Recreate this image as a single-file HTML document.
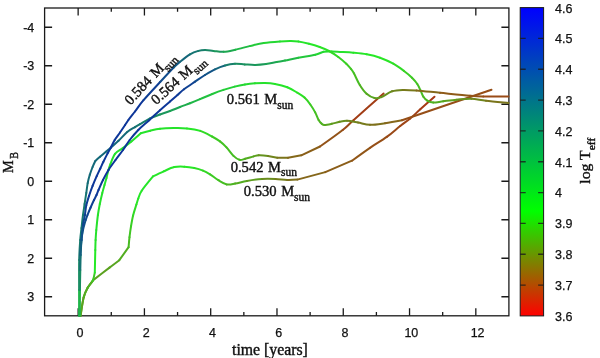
<!DOCTYPE html>
<html><head><meta charset="utf-8"><style>
html,body{margin:0;padding:0;background:#fff;width:600px;height:358px;overflow:hidden}
svg{display:block;will-change:transform}
.tk{font-family:"Liberation Sans",sans-serif;font-size:12.5px;fill:#111;stroke:#111;stroke-width:0.25px}
.sf{font-family:"Liberation Serif",serif;fill:#111}
.lb{stroke:#111;stroke-width:0.4px}
</style></head><body>
<svg width="600" height="358" viewBox="0 0 600 358">
<defs>
<linearGradient id="cb" x1="0" y1="1" x2="0" y2="0"><stop offset="0.000" stop-color="#ff0000"/><stop offset="0.020" stop-color="#f00f00"/><stop offset="0.040" stop-color="#e11e00"/><stop offset="0.060" stop-color="#d22d00"/><stop offset="0.080" stop-color="#c33c00"/><stop offset="0.100" stop-color="#b44b00"/><stop offset="0.120" stop-color="#a55a00"/><stop offset="0.140" stop-color="#966900"/><stop offset="0.160" stop-color="#877800"/><stop offset="0.180" stop-color="#788700"/><stop offset="0.200" stop-color="#699600"/><stop offset="0.220" stop-color="#5aa500"/><stop offset="0.240" stop-color="#4bb400"/><stop offset="0.260" stop-color="#3cc300"/><stop offset="0.280" stop-color="#2dd200"/><stop offset="0.300" stop-color="#1ee100"/><stop offset="0.320" stop-color="#0ff000"/><stop offset="0.340" stop-color="#00ff00"/><stop offset="0.360" stop-color="#00f708"/><stop offset="0.380" stop-color="#00f00f"/><stop offset="0.400" stop-color="#00e817"/><stop offset="0.420" stop-color="#00e01f"/><stop offset="0.440" stop-color="#00d827"/><stop offset="0.460" stop-color="#00d12e"/><stop offset="0.480" stop-color="#00c936"/><stop offset="0.500" stop-color="#00c13e"/><stop offset="0.520" stop-color="#00b946"/><stop offset="0.540" stop-color="#00b24d"/><stop offset="0.560" stop-color="#00aa55"/><stop offset="0.580" stop-color="#00a25d"/><stop offset="0.600" stop-color="#009b64"/><stop offset="0.620" stop-color="#00936c"/><stop offset="0.640" stop-color="#008b74"/><stop offset="0.660" stop-color="#00837c"/><stop offset="0.680" stop-color="#007c83"/><stop offset="0.700" stop-color="#00748b"/><stop offset="0.720" stop-color="#006c93"/><stop offset="0.740" stop-color="#00649b"/><stop offset="0.760" stop-color="#005da2"/><stop offset="0.780" stop-color="#0055aa"/><stop offset="0.800" stop-color="#004db2"/><stop offset="0.820" stop-color="#0046b9"/><stop offset="0.840" stop-color="#003ec1"/><stop offset="0.860" stop-color="#0036c9"/><stop offset="0.880" stop-color="#002ed1"/><stop offset="0.900" stop-color="#0027d8"/><stop offset="0.920" stop-color="#001fe0"/><stop offset="0.940" stop-color="#0017e8"/><stop offset="0.960" stop-color="#000ff0"/><stop offset="0.980" stop-color="#0008f7"/><stop offset="1.000" stop-color="#0000ff"/></linearGradient>
</defs>

<rect x="44.6" y="8.0" width="464.29999999999995" height="307.8" fill="none" stroke="#1a1a1a" stroke-width="1.3"/>
<path d="M78.14 8.0v7.5M78.14 315.8v-7.5M111.28 8.0v3.7M111.28 315.8v-3.7M144.42 8.0v7.5M144.42 315.8v-7.5M177.56 8.0v3.7M177.56 315.8v-3.7M210.70 8.0v7.5M210.70 315.8v-7.5M243.84 8.0v3.7M243.84 315.8v-3.7M276.98 8.0v7.5M276.98 315.8v-7.5M310.12 8.0v3.7M310.12 315.8v-3.7M343.26 8.0v7.5M343.26 315.8v-7.5M376.40 8.0v3.7M376.40 315.8v-3.7M409.54 8.0v7.5M409.54 315.8v-7.5M442.68 8.0v3.7M442.68 315.8v-3.7M475.82 8.0v7.5M475.82 315.8v-7.5M44.6 27.25h7.5M508.9 27.25h-7.5M44.6 65.75h7.5M508.9 65.75h-7.5M44.6 104.25h7.5M508.9 104.25h-7.5M44.6 142.75h7.5M508.9 142.75h-7.5M44.6 181.25h7.5M508.9 181.25h-7.5M44.6 219.75h7.5M508.9 219.75h-7.5M44.6 258.25h7.5M508.9 258.25h-7.5M44.6 296.75h7.5M508.9 296.75h-7.5" stroke="#1a1a1a" stroke-width="1.3" fill="none"/>
<text class="tk" x="79.94" y="337" text-anchor="middle">0</text>
<text class="tk" x="146.22" y="337" text-anchor="middle">2</text>
<text class="tk" x="212.50" y="337" text-anchor="middle">4</text>
<text class="tk" x="278.78" y="337" text-anchor="middle">6</text>
<text class="tk" x="345.06" y="337" text-anchor="middle">8</text>
<text class="tk" x="411.34" y="337" text-anchor="middle">10</text>
<text class="tk" x="477.62" y="337" text-anchor="middle">12</text>
<text class="tk" x="34.3" y="31.55" text-anchor="end">-4</text>
<text class="tk" x="34.3" y="70.05" text-anchor="end">-3</text>
<text class="tk" x="34.3" y="108.55" text-anchor="end">-2</text>
<text class="tk" x="34.3" y="147.05" text-anchor="end">-1</text>
<text class="tk" x="34.3" y="185.55" text-anchor="end">0</text>
<text class="tk" x="34.3" y="224.05" text-anchor="end">1</text>
<text class="tk" x="34.3" y="262.55" text-anchor="end">2</text>
<text class="tk" x="34.3" y="301.05" text-anchor="end">3</text>
<rect x="520.2" y="7.6" width="23.399999999999977" height="308.29999999999995" fill="url(#cb)" stroke="#1a1a1a" stroke-width="1"/>
<path d="M520.2 38.43h5.5M543.6 38.43h-5.5M520.2 69.26h5.5M543.6 69.26h-5.5M520.2 100.09h5.5M543.6 100.09h-5.5M520.2 130.92h5.5M543.6 130.92h-5.5M520.2 161.75h5.5M543.6 161.75h-5.5M520.2 192.58h5.5M543.6 192.58h-5.5M520.2 223.41h5.5M543.6 223.41h-5.5M520.2 254.24h5.5M543.6 254.24h-5.5M520.2 285.07h5.5M543.6 285.07h-5.5" stroke="#1a1a1a" stroke-width="1.3" fill="none" opacity="0.8"/>
<text class="tk" x="555" y="12.50">4.6</text>
<text class="tk" x="555" y="43.33">4.5</text>
<text class="tk" x="555" y="74.16">4.4</text>
<text class="tk" x="555" y="104.99">4.3</text>
<text class="tk" x="555" y="135.82">4.2</text>
<text class="tk" x="555" y="166.65">4.1</text>
<text class="tk" x="555" y="197.48">4</text>
<text class="tk" x="555" y="228.31">3.9</text>
<text class="tk" x="555" y="259.14">3.8</text>
<text class="tk" x="555" y="289.97">3.7</text>
<text class="tk" x="555" y="320.80">3.6</text>
<text class="sf lb" font-size="15.8" x="232" y="354.6">time [years]</text>
<text class="sf lb" font-size="14.2" transform="translate(12.6,173.1) rotate(-90)">M</text>
<text class="sf lb" font-size="11.45" transform="translate(18.1,158.84) rotate(-90) scale(0.875,1)">B</text>
<text class="sf lb" font-size="15" transform="translate(590.3,183.7) rotate(-90) scale(1.05,1)">log T<tspan font-size="11" dy="4.2">eff</tspan></text>
<g fill="none" stroke-width="2.0" stroke-linecap="round"><path d="M80.50 316.00C81.03 312.88 82.48 302.03 83.70 297.30" stroke="#5c9f1f"/><path d="M83.70 297.30C84.92 292.57 86.22 290.47 87.80 287.60" stroke="#5c9f1f"/><path d="M87.80 287.60C89.38 284.73 93.20 280.10 93.20 280.10" stroke="#5c9f1f"/><path d="M93.20 280.10C93.20 280.10 105.15 270.92 109.50 267.60" stroke="#5ba11f"/><path d="M109.50 267.60C113.85 264.28 119.30 260.20 119.30 260.20" stroke="#58a520"/><path d="M119.30 260.20C119.30 260.20 128.60 247.20 128.60 247.20" stroke="#52ad20"/><path d="M128.60 247.20C128.60 247.20 129.10 240.68 129.50 237.20" stroke="#48bb22"/><path d="M129.50 237.20C129.90 233.72 130.40 229.93 131.00 226.30" stroke="#40c623"/><path d="M131.00 226.30C131.60 222.67 132.20 219.03 133.10 215.40" stroke="#38d024"/><path d="M133.10 215.40C134.00 211.77 135.53 207.32 136.40 204.50" stroke="#30db25"/><path d="M136.40 204.50C137.27 201.68 137.42 200.80 138.30 198.50" stroke="#2ae526"/><path d="M138.30 198.50C139.18 196.20 139.25 194.38 141.70 190.70" stroke="#26e827"/><path d="M141.70 190.70C144.15 187.02 153.00 176.40 153.00 176.40" stroke="#26e529"/><path d="M153.00 176.40C153.00 176.40 160.15 172.85 163.70 171.30" stroke="#26e628"/><path d="M163.70 171.30C167.25 169.75 170.87 167.87 174.30 167.10" stroke="#26e628"/><path d="M174.30 167.10C177.73 166.33 180.97 166.55 184.30 166.70" stroke="#26e727"/><path d="M184.30 166.70C187.63 166.85 191.18 167.35 194.30 168.00" stroke="#27e826"/><path d="M194.30 168.00C197.42 168.65 200.38 169.55 203.00 170.60" stroke="#2edf25"/><path d="M203.00 170.60C205.62 171.65 207.43 172.70 210.00 174.30" stroke="#34d624"/><path d="M210.00 174.30C212.57 175.90 215.60 178.52 218.40 180.20" stroke="#3dca23"/><path d="M218.40 180.20C221.20 181.88 224.00 183.83 226.80 184.40" stroke="#45be22"/><path d="M226.80 184.40C229.60 184.97 231.85 184.17 235.20 183.60" stroke="#4cb521"/><path d="M235.20 183.60C238.55 183.03 242.43 181.78 246.90 181.00" stroke="#53ac20"/><path d="M246.90 181.00C251.37 180.22 257.25 179.25 262.00 178.90" stroke="#5e9d1f"/><path d="M262.00 178.90C266.75 178.55 271.22 178.73 275.40 178.90" stroke="#6a8c1d"/><path d="M275.40 178.90C279.58 179.07 283.45 179.78 287.10 179.90" stroke="#747e1c"/><path d="M287.10 179.90C290.75 180.02 297.30 179.60 297.30 179.60" stroke="#7d711b"/><path d="M297.30 179.60C297.30 179.60 325.30 172.10 325.30 172.10" stroke="#85671a"/><path d="M325.30 172.10C325.30 172.10 352.00 160.70 352.00 160.70" stroke="#8b5e19"/><path d="M352.00 160.70C352.00 160.70 364.20 151.77 370.00 147.80" stroke="#915618"/><path d="M370.00 147.80C375.80 143.83 381.77 140.53 386.80 136.90" stroke="#964f17"/><path d="M386.80 136.90C391.83 133.27 396.30 129.07 400.20 126.00" stroke="#9a4917"/><path d="M400.20 126.00C404.10 122.93 406.85 121.28 410.20 118.50" stroke="#9e4416"/><path d="M410.20 118.50C413.55 115.72 416.25 112.93 420.30 109.30" stroke="#a13f16"/><path d="M420.30 109.30C424.35 105.67 432.13 98.80 434.50 96.70" stroke="#a63915"/></g>
<g fill="none" stroke-width="2.0" stroke-linecap="round"><path d="M80.50 316.00C81.03 312.88 82.48 302.03 83.70 297.30" stroke="#59a420"/><path d="M83.70 297.30C84.92 292.57 86.32 290.32 87.80 287.60" stroke="#53ac20"/><path d="M87.80 287.60C89.28 284.88 91.43 283.50 92.60 281.00" stroke="#4fb121"/><path d="M92.60 281.00C93.77 278.50 94.80 272.60 94.80 272.60" stroke="#3dca23"/><path d="M94.80 272.60C94.80 272.60 95.17 255.43 95.30 250.00" stroke="#26e926"/><path d="M95.30 250.00C95.43 244.57 95.43 243.33 95.60 240.00" stroke="#25e32a"/><path d="M95.60 240.00C95.77 236.67 95.92 234.17 96.30 230.00" stroke="#25e12b"/><path d="M96.30 230.00C96.68 225.83 97.32 219.33 97.90 215.00" stroke="#25e12b"/><path d="M97.90 215.00C98.48 210.67 99.07 207.68 99.80 204.00" stroke="#25e22b"/><path d="M99.80 204.00C100.53 200.32 101.52 196.07 102.30 192.90" stroke="#25e22b"/><path d="M102.30 192.90C103.08 189.73 103.80 187.48 104.50 185.00" stroke="#25e22b"/><path d="M104.50 185.00C105.20 182.52 105.87 180.42 106.50 178.00" stroke="#25e22b"/><path d="M106.50 178.00C107.13 175.58 107.65 172.80 108.30 170.50" stroke="#25e22b"/><path d="M108.30 170.50C108.95 168.20 109.28 166.97 110.40 164.20" stroke="#25e22b"/><path d="M110.40 164.20C111.52 161.43 112.97 156.55 115.00 153.90" stroke="#25e22b"/><path d="M115.00 153.90C117.03 151.25 119.87 150.38 122.60 148.30" stroke="#25e22b"/><path d="M122.60 148.30C125.33 146.22 128.37 143.92 131.40 141.40" stroke="#25e22b"/><path d="M131.40 141.40C134.43 138.88 140.80 133.20 140.80 133.20" stroke="#25e32a"/><path d="M140.80 133.20C140.80 133.20 147.00 131.43 150.20 130.70" stroke="#25e32a"/><path d="M150.20 130.70C153.40 129.97 156.12 129.23 160.00 128.80" stroke="#25e32a"/><path d="M160.00 128.80C163.88 128.37 169.02 128.17 173.50 128.10" stroke="#25e32a"/><path d="M173.50 128.10C177.98 128.03 182.43 127.93 186.90 128.40" stroke="#25e32a"/><path d="M186.90 128.40C191.37 128.87 196.12 129.55 200.30 130.90" stroke="#26e827"/><path d="M200.30 130.90C204.48 132.25 208.72 134.75 212.00 136.50" stroke="#32da25"/><path d="M212.00 136.50C215.28 138.25 217.58 139.58 220.00 141.40" stroke="#3dca23"/><path d="M220.00 141.40C222.42 143.22 224.25 144.98 226.50 147.40" stroke="#43c222"/><path d="M226.50 147.40C228.75 149.82 231.35 153.83 233.50 155.90" stroke="#45be22"/><path d="M233.50 155.90C235.65 157.97 237.45 159.32 239.40 159.80" stroke="#48bb22"/><path d="M239.40 159.80C241.35 160.28 242.83 159.37 245.20 158.80" stroke="#4bb621"/><path d="M245.20 158.80C247.57 158.23 251.35 156.98 253.60 156.40" stroke="#53ac20"/><path d="M253.60 156.40C255.85 155.82 256.30 155.38 258.70 155.30" stroke="#5c9f1f"/><path d="M258.70 155.30C261.10 155.22 264.90 155.50 268.00 155.90" stroke="#65931e"/><path d="M268.00 155.90C271.10 156.30 277.30 157.70 277.30 157.70" stroke="#70841c"/><path d="M277.30 157.70C277.30 157.70 288.00 157.70 288.00 157.70" stroke="#7b741b"/><path d="M288.00 157.70C288.00 157.70 301.30 155.30 301.30 155.30" stroke="#84681a"/><path d="M301.30 155.30C301.30 155.30 320.00 146.50 320.00 146.50" stroke="#8a5f19"/><path d="M320.00 146.50C320.00 146.50 337.08 134.42 342.70 130.00" stroke="#935318"/><path d="M342.70 130.00C348.32 125.58 346.88 126.08 353.70 120.00" stroke="#9a4917"/><path d="M353.70 120.00C360.52 113.92 378.62 97.92 383.60 93.50" stroke="#a23d16"/></g>
<g fill="none" stroke-width="2.0" stroke-linecap="round"><path d="M79.30 316.00C79.28 311.67 79.22 299.33 79.20 290.00" stroke="#1fb449"/><path d="M79.20 290.00C79.18 280.67 79.03 268.33 79.20 260.00" stroke="#198b63"/><path d="M79.20 260.00C79.37 251.67 79.82 245.33 80.20 240.00" stroke="#17796e"/><path d="M80.20 240.00C80.58 234.67 81.03 232.17 81.50 228.00" stroke="#17796e"/><path d="M81.50 228.00C81.97 223.83 82.48 219.00 83.00 215.00" stroke="#17796e"/><path d="M83.00 215.00C83.52 211.00 84.05 207.68 84.60 204.00" stroke="#17796e"/><path d="M84.60 204.00C85.15 200.32 85.78 196.38 86.30 192.90" stroke="#167670"/><path d="M86.30 192.90C86.82 189.42 87.12 186.12 87.70 183.10" stroke="#157074"/><path d="M87.70 183.10C88.28 180.08 88.98 177.48 89.80 174.80" stroke="#156b77"/><path d="M89.80 174.80C90.62 172.12 91.68 169.30 92.60 167.00" stroke="#146879"/><path d="M92.60 167.00C93.52 164.70 95.30 161.00 95.30 161.00" stroke="#146879"/><path d="M95.30 161.00C95.30 161.00 98.23 158.35 100.00 156.80" stroke="#146879"/><path d="M100.00 156.80C101.77 155.25 104.08 153.25 105.90 151.70" stroke="#146879"/><path d="M105.90 151.70C107.72 150.15 108.80 149.32 110.90 147.50" stroke="#146879"/><path d="M110.90 147.50C113.00 145.68 115.78 143.38 118.50 140.80" stroke="#146879"/><path d="M118.50 140.80C121.22 138.22 124.45 134.28 127.20 132.00" stroke="#146879"/><path d="M127.20 132.00C129.95 129.72 132.87 128.40 135.00 127.10" stroke="#156d76"/><path d="M135.00 127.10C137.13 125.80 137.50 125.63 140.00 124.20" stroke="#167571"/><path d="M140.00 124.20C142.50 122.77 146.67 120.12 150.00 118.50" stroke="#177e6b"/><path d="M150.00 118.50C153.33 116.88 156.67 115.75 160.00 114.50" stroke="#198a63"/><path d="M160.00 114.50C163.33 113.25 166.67 112.25 170.00 111.00" stroke="#1b965c"/><path d="M170.00 111.00C173.33 109.75 176.67 108.30 180.00 107.00" stroke="#1ca254"/><path d="M180.00 107.00C183.33 105.70 186.67 104.50 190.00 103.20" stroke="#1eac4d"/><path d="M190.00 103.20C193.33 101.90 196.28 100.73 200.00 99.20" stroke="#1fb746"/><path d="M200.00 99.20C203.72 97.67 208.38 95.55 212.30 94.00" stroke="#21c140"/><path d="M212.30 94.00C216.22 92.45 219.77 91.13 223.50 89.90" stroke="#22c83b"/><path d="M223.50 89.90C227.23 88.67 231.12 87.50 234.70 86.60" stroke="#23cf37"/><path d="M234.70 86.60C238.28 85.70 241.62 85.05 245.00 84.50" stroke="#23d533"/><path d="M245.00 84.50C248.38 83.95 251.67 83.57 255.00 83.30" stroke="#24db30"/><path d="M255.00 83.30C258.33 83.03 261.67 82.80 265.00 82.90" stroke="#25e02c"/><path d="M265.00 82.90C268.33 83.00 271.28 83.17 275.00 83.90" stroke="#25e22b"/><path d="M275.00 83.90C278.72 84.63 283.63 85.87 287.30 87.30" stroke="#26e529"/><path d="M287.30 87.30C290.97 88.73 294.13 90.78 297.00 92.50" stroke="#26e827"/><path d="M297.00 92.50C299.87 94.22 302.28 95.60 304.50 97.60" stroke="#2ce225"/><path d="M304.50 97.60C306.72 99.60 308.52 102.03 310.30 104.50" stroke="#36d424"/><path d="M310.30 104.50C312.08 106.97 313.82 109.82 315.20 112.40" stroke="#3ec823"/><path d="M315.20 112.40C316.58 114.98 317.55 118.13 318.60 120.00" stroke="#46bd22"/><path d="M318.60 120.00C319.65 121.87 320.52 122.77 321.50 123.60" stroke="#4cb521"/><path d="M321.50 123.60C322.48 124.43 322.78 124.97 324.50 125.00" stroke="#50b021"/><path d="M324.50 125.00C326.22 125.03 329.30 124.33 331.80 123.80" stroke="#57a620"/><path d="M331.80 123.80C334.30 123.27 336.97 122.30 339.50 121.80" stroke="#61981e"/><path d="M339.50 121.80C342.03 121.30 343.92 120.68 347.00 120.80" stroke="#688e1d"/><path d="M347.00 120.80C350.08 120.92 354.17 121.83 358.00 122.50" stroke="#6f851d"/><path d="M358.00 122.50C361.83 123.17 365.48 124.68 370.00 124.80" stroke="#777a1c"/><path d="M370.00 124.80C374.52 124.92 379.77 123.95 385.10 123.20" stroke="#7e701b"/><path d="M385.10 123.20C390.43 122.45 402.00 120.30 402.00 120.30" stroke="#85671a"/><path d="M402.00 120.30C402.00 120.30 476.58 94.80 491.50 89.70" stroke="#964e17"/></g>
<g fill="none" stroke-width="2.0" stroke-linecap="round"><path d="M79.50 316.00C79.57 311.67 79.77 297.67 79.90 290.00" stroke="#1fb449"/><path d="M79.90 290.00C80.03 282.33 80.17 275.83 80.30 270.00" stroke="#198d62"/><path d="M80.30 270.00C80.43 264.17 80.50 260.00 80.70 255.00" stroke="#167372"/><path d="M80.70 255.00C80.90 250.00 81.12 244.17 81.50 240.00" stroke="#13627d"/><path d="M81.50 240.00C81.88 235.83 82.30 233.33 83.00 230.00" stroke="#125883"/><path d="M83.00 230.00C83.70 226.67 84.95 222.50 85.70 220.00" stroke="#114f89"/><path d="M85.70 220.00C86.45 217.50 86.68 217.08 87.50 215.00" stroke="#10498d"/><path d="M87.50 215.00C88.32 212.92 89.52 210.00 90.60 207.50" stroke="#0f4490"/><path d="M90.60 207.50C91.68 205.00 93.02 202.08 94.00 200.00" stroke="#0f4093"/><path d="M94.00 200.00C94.98 197.92 95.75 196.67 96.50 195.00" stroke="#0e3b95"/><path d="M96.50 195.00C97.25 193.33 97.42 192.50 98.50 190.00" stroke="#0e3898"/><path d="M98.50 190.00C99.58 187.50 101.33 183.33 103.00 180.00" stroke="#0d3699"/><path d="M103.00 180.00C104.67 176.67 106.42 173.33 108.50 170.00" stroke="#0d3699"/><path d="M108.50 170.00C110.58 166.67 113.08 163.33 115.50 160.00" stroke="#0d3699"/><path d="M115.50 160.00C117.92 156.67 120.63 153.33 123.00 150.00" stroke="#0d3699"/><path d="M123.00 150.00C125.37 146.67 127.15 143.33 129.70 140.00" stroke="#0d3699"/><path d="M129.70 140.00C132.25 136.67 135.05 133.30 138.30 130.00" stroke="#0d3699"/><path d="M138.30 130.00C141.55 126.70 145.58 123.50 149.20 120.20" stroke="#0d3699"/><path d="M149.20 120.20C152.82 116.90 156.53 113.32 160.00 110.20" stroke="#0d3699"/><path d="M160.00 110.20C163.47 107.08 167.08 104.03 170.00 101.50" stroke="#0d3699"/><path d="M170.00 101.50C172.92 98.97 175.17 97.03 177.50 95.00" stroke="#0d3699"/><path d="M177.50 95.00C179.83 92.97 181.08 91.52 184.00 89.30" stroke="#0e3a96"/><path d="M184.00 89.30C186.92 87.08 191.50 84.08 195.00 81.70" stroke="#0f4192"/><path d="M195.00 81.70C198.50 79.32 201.67 77.07 205.00 75.00" stroke="#104b8c"/><path d="M205.00 75.00C208.33 72.93 211.67 70.88 215.00 69.30" stroke="#115386"/><path d="M215.00 69.30C218.33 67.72 221.67 66.42 225.00 65.50" stroke="#14647c"/><path d="M225.00 65.50C228.33 64.58 231.72 63.98 235.00 63.80" stroke="#177e6b"/><path d="M235.00 63.80C238.28 63.62 241.32 64.22 244.70 64.40" stroke="#198e61"/><path d="M244.70 64.40C248.08 64.58 251.75 64.97 255.30 64.90" stroke="#1a935d"/><path d="M255.30 64.90C258.85 64.83 262.43 64.48 266.00 64.00" stroke="#1b9a59"/><path d="M266.00 64.00C269.57 63.52 273.53 62.57 276.70 62.00" stroke="#1ca254"/><path d="M276.70 62.00C279.87 61.43 281.40 61.32 285.00 60.60" stroke="#1ead4d"/><path d="M285.00 60.60C288.60 59.88 293.25 58.67 298.30 57.70" stroke="#20b945"/><path d="M298.30 57.70C303.35 56.73 311.08 55.78 315.30 54.80" stroke="#22c83b"/><path d="M315.30 54.80C319.52 53.82 320.87 52.35 323.60 51.80" stroke="#23d633"/><path d="M323.60 51.80C326.33 51.25 328.97 51.48 331.70 51.50" stroke="#24dc2f"/><path d="M331.70 51.50C334.43 51.52 336.40 51.70 340.00 51.90" stroke="#25df2d"/><path d="M340.00 51.90C343.60 52.10 348.85 52.30 353.30 52.70" stroke="#25e32a"/><path d="M353.30 52.70C357.75 53.10 362.25 53.47 366.70 54.30" stroke="#26e628"/><path d="M366.70 54.30C371.15 55.13 375.57 56.13 380.00 57.70" stroke="#26e926"/><path d="M380.00 57.70C384.43 59.27 389.30 61.48 393.30 63.70" stroke="#2ae526"/><path d="M393.30 63.70C397.30 65.92 400.88 68.67 404.00 71.00" stroke="#30db25"/><path d="M404.00 71.00C407.12 73.33 409.78 75.53 412.00 77.70" stroke="#3acf24"/><path d="M412.00 77.70C414.22 79.87 415.87 81.87 417.30 84.00" stroke="#41c523"/><path d="M417.30 84.00C418.73 86.13 419.58 88.38 420.60 90.50" stroke="#45be22"/><path d="M420.60 90.50C421.62 92.62 422.28 95.00 423.40 96.70" stroke="#48bb22"/><path d="M423.40 96.70C424.52 98.40 425.67 99.72 427.30 100.70" stroke="#4bb721"/><path d="M427.30 100.70C428.93 101.68 430.53 102.50 433.20 102.60" stroke="#4db421"/><path d="M433.20 102.60C435.87 102.70 439.38 101.78 443.30 101.30" stroke="#52ad20"/><path d="M443.30 101.30C447.22 100.82 452.03 100.13 456.70 99.70" stroke="#5ba11f"/><path d="M456.70 99.70C461.37 99.27 466.42 98.53 471.30 98.70" stroke="#65931e"/><path d="M471.30 98.70C476.18 98.87 479.80 100.00 486.00 100.70" stroke="#6f851d"/><path d="M486.00 100.70C492.20 101.40 504.75 102.53 508.50 102.90" stroke="#7a751b"/></g>
<g fill="none" stroke-width="2.0" stroke-linecap="round"><path d="M79.50 316.00C79.52 311.67 79.55 297.67 79.60 290.00" stroke="#1fb449"/><path d="M79.60 290.00C79.65 282.33 79.70 275.83 79.80 270.00" stroke="#198d62"/><path d="M79.80 270.00C79.90 264.17 79.92 260.00 80.20 255.00" stroke="#167372"/><path d="M80.20 255.00C80.48 250.00 81.03 245.00 81.50 240.00" stroke="#135f7e"/><path d="M81.50 240.00C81.97 235.00 82.43 229.17 83.00 225.00" stroke="#114f89"/><path d="M83.00 225.00C83.57 220.83 84.35 218.27 84.90 215.00" stroke="#0f458f"/><path d="M84.90 215.00C85.45 211.73 85.60 208.62 86.30 205.40" stroke="#0f4092"/><path d="M86.30 205.40C87.00 202.18 88.05 198.95 89.10 195.70" stroke="#0e3c95"/><path d="M89.10 195.70C90.15 192.45 91.33 189.15 92.60 185.90" stroke="#0e3898"/><path d="M92.60 185.90C93.87 182.65 95.42 179.10 96.70 176.20" stroke="#0d3699"/><path d="M96.70 176.20C97.98 173.30 99.18 170.90 100.30 168.50" stroke="#0d3699"/><path d="M100.30 168.50C101.42 166.10 102.18 164.32 103.40 161.80" stroke="#0d3699"/><path d="M103.40 161.80C104.62 159.28 106.35 155.78 107.60 153.40" stroke="#0d3699"/><path d="M107.60 153.40C108.85 151.02 109.72 149.73 110.90 147.50" stroke="#0d3699"/><path d="M110.90 147.50C112.08 145.27 113.18 142.50 114.70 140.00" stroke="#0d3699"/><path d="M114.70 140.00C116.22 137.50 118.27 135.00 120.00 132.50" stroke="#0d3699"/><path d="M120.00 132.50C121.73 130.00 123.70 127.08 125.10 125.00" stroke="#0d3699"/><path d="M125.10 125.00C126.50 122.92 126.75 122.25 128.40 120.00" stroke="#0d3699"/><path d="M128.40 120.00C130.05 117.75 132.48 114.80 135.00 111.50" stroke="#0d3699"/><path d="M135.00 111.50C137.52 108.20 139.28 105.15 143.50 100.20" stroke="#0d3699"/><path d="M143.50 100.20C147.72 95.25 155.27 87.25 160.30 81.80" stroke="#0e3e94"/><path d="M160.30 81.80C165.33 76.35 170.42 70.83 173.70 67.50" stroke="#104b8c"/><path d="M173.70 67.50C176.98 64.17 177.28 64.00 180.00 61.80" stroke="#125883"/><path d="M180.00 61.80C182.72 59.60 186.93 56.12 190.00 54.30" stroke="#14667a"/><path d="M190.00 54.30C193.07 52.48 195.88 51.60 198.40 50.90" stroke="#167472"/><path d="M198.40 50.90C200.92 50.20 202.58 50.10 205.10 50.10" stroke="#177d6c"/><path d="M205.10 50.10C207.62 50.10 210.42 50.62 213.50 50.90" stroke="#198765"/><path d="M213.50 50.90C216.58 51.18 219.97 52.00 223.60 51.80" stroke="#1b975b"/><path d="M223.60 51.80C227.23 51.60 230.83 50.68 235.30 49.70" stroke="#1da850"/><path d="M235.30 49.70C239.77 48.72 245.65 47.02 250.40 45.90" stroke="#20b945"/><path d="M250.40 45.90C255.15 44.78 258.87 43.75 263.80 43.00" stroke="#22ca3a"/><path d="M263.80 43.00C268.73 42.25 275.63 41.73 280.00 41.40" stroke="#24d732"/><path d="M280.00 41.40C284.37 41.07 286.95 41.00 290.00 41.00" stroke="#25e02c"/><path d="M290.00 41.00C293.05 41.00 295.13 40.95 298.30 41.40" stroke="#25e12b"/><path d="M298.30 41.40C301.47 41.85 305.43 42.77 309.00 43.70" stroke="#25e429"/><path d="M309.00 43.70C312.57 44.63 316.37 45.78 319.70 47.00" stroke="#26e827"/><path d="M319.70 47.00C323.03 48.22 325.90 49.33 329.00 51.00" stroke="#2be326"/><path d="M329.00 51.00C332.10 52.67 335.42 54.88 338.30 57.00" stroke="#31da25"/><path d="M338.30 57.00C341.18 59.12 344.18 61.70 346.30 63.70" stroke="#37d224"/><path d="M346.30 63.70C348.42 65.70 349.73 67.40 351.00 69.00" stroke="#3dca23"/><path d="M351.00 69.00C352.27 70.60 352.43 70.63 353.90 73.30" stroke="#41c523"/><path d="M353.90 73.30C355.37 75.97 357.68 81.58 359.80 85.00" stroke="#47bd22"/><path d="M359.80 85.00C361.92 88.42 364.15 91.62 366.60 93.80" stroke="#4fb121"/><path d="M366.60 93.80C369.05 95.98 372.05 97.55 374.50 98.10" stroke="#57a620"/><path d="M374.50 98.10C376.95 98.65 378.37 98.23 381.30 97.10" stroke="#5e9d1f"/><path d="M381.30 97.10C384.23 95.97 388.52 92.50 392.10 91.30" stroke="#66911e"/><path d="M392.10 91.30C395.68 90.10 398.73 90.03 402.80 89.90" stroke="#6f841d"/><path d="M402.80 89.90C406.87 89.77 410.30 90.02 416.50 90.50" stroke="#78791b"/><path d="M416.50 90.50C422.70 90.98 431.08 91.93 440.00 92.80" stroke="#83691a"/><path d="M440.00 92.80C448.92 93.67 462.78 95.10 470.00 95.70" stroke="#8e5a18"/><path d="M470.00 95.70C477.22 96.30 476.88 96.28 483.30 96.40" stroke="#945218"/><path d="M483.30 96.40C489.72 96.52 504.30 96.40 508.50 96.40" stroke="#994b17"/></g>
<text class="sf lb" font-size="14.6" transform="translate(226.85,103.7)">0.561 <tspan dx="0.9">M</tspan><tspan font-size="11.5" dy="4.8">sun</tspan></text>
<text class="sf lb" font-size="14.6" transform="translate(230.65,171.5)">0.542 <tspan dx="0.9">M</tspan><tspan font-size="11.5" dy="4.8">sun</tspan></text>
<text class="sf lb" font-size="14.6" transform="translate(243.75,196.3)">0.530 <tspan dx="0.9">M</tspan><tspan font-size="11.5" dy="4.8">sun</tspan></text>
<text class="sf lb" font-size="14.6" transform="translate(130.4,105.7) rotate(-47)">0.584 <tspan dx="0.9">M</tspan><tspan font-size="11.5" dy="4.8">sun</tspan></text>
<text class="sf lb" font-size="14.6" transform="translate(156.3,105.2) rotate(-42)">0.564 <tspan dx="0.9">M</tspan><tspan font-size="11.5" dy="4.8">sun</tspan></text>
</svg></body></html>
